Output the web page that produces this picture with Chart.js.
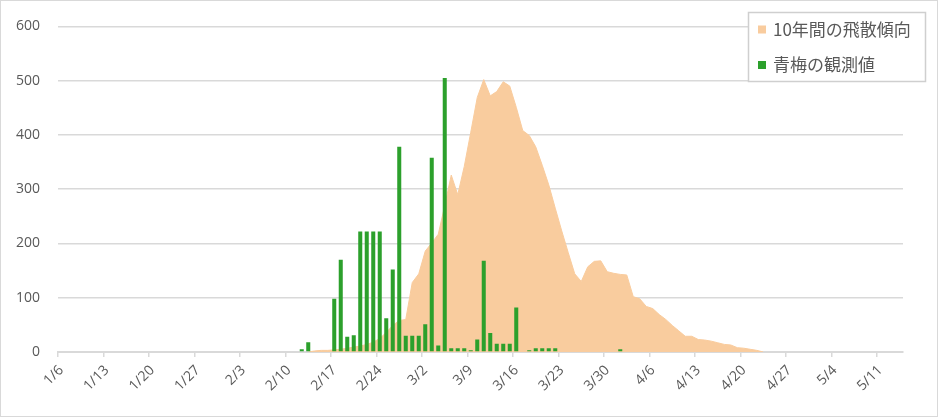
<!DOCTYPE html>
<html lang="ja">
<head>
<meta charset="utf-8">
<title>青梅の花粉飛散</title>
<script src="https://cdn.jsdelivr.net/npm/chart.js@4.4.1/dist/chart.umd.min.js"></script>
<style>
  html, body { margin: 0; padding: 0; background: #fff; }
  #wrap { width: 938px; height: 417px; }
</style>
</head>
<body>
<div id="wrap"><canvas id="pollen" width="938" height="417"></canvas></div>
<script>
// 1/6 から 5/14 まで (2020年, 閏年) の日付カテゴリ
const startMonth = 1;
const startDay = 6;
const dayCount = 130;
const monthDays = [31, 29, 31, 30, 31];

// 7日ごとに表示する目盛ラベル
const tickLabels = ['1/6', '1/13', '1/20', '1/27', '2/3', '2/10', '2/17', '2/24', '3/2',
  '3/9', '3/16', '3/23', '3/30', '4/6', '4/13', '4/20', '4/27', '5/4', '5/11'];

const seriesNames = ['10年間の飛散傾向', '青梅の観測値'];

// 10年間の飛散傾向 (面)
const trendValues = [
  null, null, null, null, null, null, null, null, null, null,
  null, null, null, null, null, null, null, null, null, null,
  null, null, null, null, null, null, null, null, null, null,
  null, null, null, null, null, null, null, null, 0, 2,
  3, 3, 4, 5, 7, 9, 11, 14, 18, 25,
  36, 49, 58, 60, 128, 144, 186, 201, 217, 270,
  326, 290, 342, 405, 469, 502, 472, 480, 498, 490,
  451, 408, 399, 378, 344, 308, 265, 223, 183, 144,
  130, 157, 167, 168, 148, 145, 143, 142, 102, 98,
  84, 80, 69, 60, 49, 39, 29, 29, 23, 22,
  20, 17, 14, 13, 8, 7, 5, 3, 0, null,
  null, null, null, null, null, null, null, null, null, null,
  null, null, null, null, null, null, null, null, null, null
];

// 青梅の観測値 (棒)
const omeValues = [
  null, null, null, null, null, null, null, null, null, null,
  null, null, null, null, null, null, null, null, null, null,
  null, null, null, null, null, null, null, null, null, null,
  null, null, null, null, null, null, null, 5, 18, null,
  null, null, 98, 170, 28, 31, 222, 222, 222, 222,
  62, 152, 378, 30, 30, 30, 51, 358, 12, 505,
  7, 7, 7, 3, 23, 168, 35, 15, 15, 15,
  82, null, 3, 7, 7, 7, 7, null, null, null,
  null, null, null, null, null, null, 5, null, null, null,
  null, null, null, null, null, null, null, null, null, null,
  null, null, null, null, null, null, null, null, null, null,
  null, null, null, null, null, null, null, null, null, null,
  null, null, null, null, null, null, null, null, null, null
];

const trendColor = '#F9CC9E';
const omeColor = '#2CA02C';
const textColor = '#595959';
const gridColor = '#D9D9D9';

function buildDates() {
  const out = [];
  let m = startMonth, d = startDay;
  for (let i = 0; i < dayCount; i++) {
    out.push(m + '/' + d);
    d++;
    if (d > monthDays[m - 1]) { d = 1; m++; }
  }
  return out;
}
const categories = buildDates();

// 凡例はグラフ内の右上に枠付きで描く
const boxedLegend = {
  id: 'boxedLegend',
  afterDraw(chart) {
    const ctx = chart.ctx;
    const colors = [trendColor, omeColor];
    ctx.save();
    ctx.fillStyle = '#fff';
    ctx.fillRect(748, 12, 177, 69);
    ctx.strokeStyle = '#CFCFCF';
    ctx.lineWidth = 1.5;
    ctx.strokeRect(748.5, 12.5, 177, 69);
    ctx.font = '17px "Noto Sans CJK JP"';
    ctx.textBaseline = 'middle';
    seriesNames.forEach((name, i) => {
      const cy = 29.5 + i * 35.5;
      ctx.fillStyle = colors[i];
      ctx.fillRect(758, cy - 4, 8, 8);
      ctx.fillStyle = textColor;
      ctx.fillText(name, 773, cy);
    });
    // 外枠
    ctx.strokeStyle = gridColor;
    ctx.lineWidth = 1;
    ctx.strokeRect(0.5, 0.5, 937, 416);
    ctx.restore();
  }
};

const every7 = (ctx) => (ctx.index % 7 === 0 ? gridColor : 'rgba(0,0,0,0)');

new Chart(document.getElementById('pollen'), {
  type: 'bar',
  data: {
    labels: categories,
    datasets: [
      {
        type: 'bar',
        label: seriesNames[1],
        data: omeValues,
        backgroundColor: omeColor,
        categoryPercentage: 0.62,
        barPercentage: 1,
        order: 0
      },
      {
        type: 'line',
        label: seriesNames[0],
        data: trendValues,
        backgroundColor: trendColor,
        borderColor: trendColor,
        borderWidth: 1,
        pointRadius: 0,
        tension: 0,
        fill: 'origin',
        order: 1
      }
    ]
  },
  options: {
    responsive: false,
    animation: false,
    devicePixelRatio: 1,
    layout: { padding: { top: 23, right: 35, bottom: 0, left: 0 } },
    plugins: {
      legend: { display: false },
      tooltip: { enabled: false },
      title: { display: false }
    },
    scales: {
      x: {
        offset: true,
        afterFit: (scale) => { scale.height = 65; },
        grid: {
          offset: true,
          drawOnChartArea: false,
          drawTicks: true,
          tickLength: 5,
          color: every7,
          tickColor: every7,
          lineWidth: 1.5
        },
        border: { display: true, color: gridColor, width: 2 },
        ticks: {
          autoSkip: false,
          minRotation: 45,
          maxRotation: 45,
          padding: 5,
          color: textColor,
          font: { family: '"Open Sans", sans-serif', size: 14 },
          callback: (val, idx) => (tickLabels.includes(categories[idx]) && idx % 7 === 0 ? categories[idx] : '')
        }
      },
      y: {
        min: 0,
        max: 600,
        afterFit: (scale) => { scale.width = 58; },
        grid: { color: gridColor, lineWidth: 1.5, drawTicks: false },
        border: { display: false },
        ticks: {
          stepSize: 100,
          padding: 18,
          color: textColor,
          font: { family: '"Open Sans", sans-serif', size: 14 }
        }
      }
    }
  },
  plugins: [boxedLegend]
});
</script>
</body>
</html>
